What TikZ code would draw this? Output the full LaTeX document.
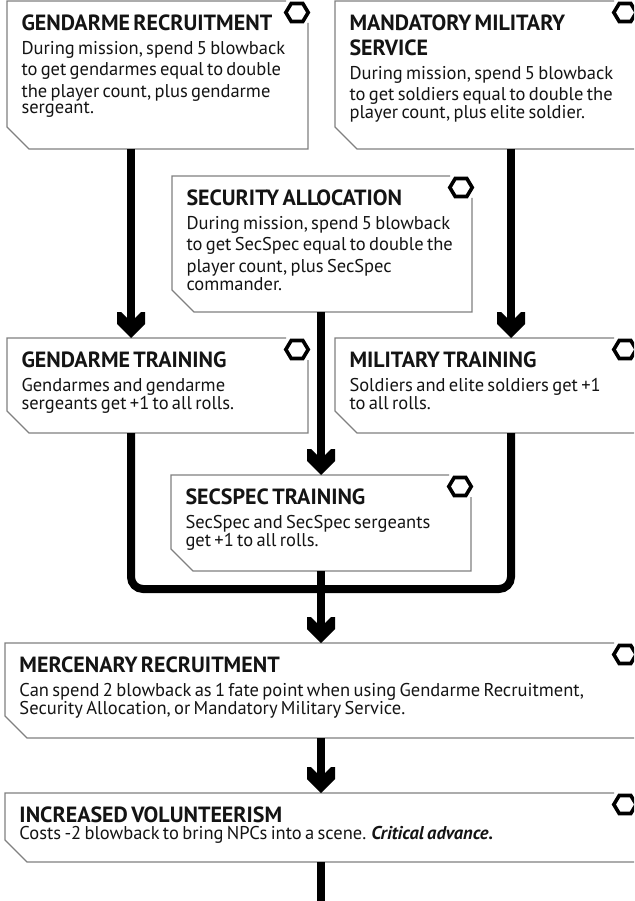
\documentclass[tikz,border=0pt]{standalone}
\usepackage{fontspec}
\setmainfont{PT Sans}
\newcommand\ttl{\fontsize{22}{25}\selectfont\bfseries}
\newcommand\bdy{\fontsize{18.5}{21.6}\selectfont\mdseries\upshape}
\pgfdeclarearrow{
  name = Chev,
  setup code = {
    \pgfarrowssettipend{0pt}
    \pgfarrowssetbackend{-26pt}
    \pgfarrowssetlineend{-18pt}
    \pgfarrowshullpoint{0pt}{0pt}
    \pgfarrowshullpoint{-26pt}{14pt}
    \pgfarrowshullpoint{-26pt}{-14pt}
  },
  drawing code = {
    \pgfpathmoveto{\pgfqpoint{0pt}{0pt}}
    \pgfpathlineto{\pgfqpoint{-14pt}{14pt}}
    \pgfpathlineto{\pgfqpoint{-26pt}{14pt}}
    \pgfpathlineto{\pgfqpoint{-26pt}{10pt}}
    \pgfpathlineto{\pgfqpoint{-20pt}{4pt}}
    \pgfpathlineto{\pgfqpoint{-20pt}{-4pt}}
    \pgfpathlineto{\pgfqpoint{-26pt}{-10pt}}
    \pgfpathlineto{\pgfqpoint{-26pt}{-14pt}}
    \pgfpathlineto{\pgfqpoint{-14pt}{-14pt}}
    \pgfpathclose
    \pgfusepathqfill
  }
}
\tikzset{
  boxn/.style={anchor=north west, inner sep=0pt, outer sep=0pt},
  outl/.style={draw=black!50, line width=1.1pt, line join=miter},
  txt/.style={anchor=north west, inner sep=0pt, outer sep=0pt, text width=620pt, align=left, text=black!92},
  conn/.style={draw=black, line width=8pt},
  arr/.style={conn, -{Chev}},
  hexa/.pic={\draw[line width=3.6pt, line join=miter, black] (-11.2,0) -- (-5.8,-9) -- (5.8,-9) -- (11.2,0) -- (5.8,9) -- (-5.8,9) -- cycle;},
}
% name, L, T, R, B
\newcommand\mkbox[5]{%
  \node[boxn, minimum width={#4-#2}, minimum height={#5-#3}] (#1) at (#2,#3) {};
  \draw[outl] ([shift={(0,22)}]#1.north east) -- (#1.south east) -- ([shift={(22,0)}]#1.south west) -- ([shift={(0,-22)}]#1.south west) -- (#1.north west) -- ([shift={(-22,0)}]#1.north east);
  \pic at ([shift={(-11,11.5)}]#1.north east) {hexa};
}
\newcommand\mktext[2]{%
  \node[txt] (#1t) at ([shift={(14.5,13.5)}]#1.north west) {#2};
}
\begin{document}
\begin{tikzpicture}[x=1pt,y=-1pt]
\useasboundingbox (0,0) rectangle (634,901);
\fill[white] (0,0) rectangle (634,901);
\clip (0,0) rectangle (634,901);
\coordinate (colL) at (131,0);
\coordinate (colM) at (321,0);
\coordinate (colR) at (511,0);
\coordinate (bar) at (321,589);
\coordinate (endH) at (321,910);

\mkbox{A}{7}{1}{308}{149}
\mkbox{B}{335}{1}{636}{149}
\mkbox{C}{172}{176}{472}{312}
\mkbox{D}{7}{338}{308}{433}
\mkbox{E}{335}{338}{636}{433}
\mkbox{F}{171}{475}{471}{571}
\mkbox{G}{5}{643}{636}{738}
\mkbox{H}{5}{793}{636}{862}

\mktext{A}{\ttl GENDARME RECRUITMENT\par\vskip2.5pt\bdy During mission, spend 5 blowback\\to get gendarmes equal to double\\the player count, plus gendarme\\sergeant.}
\mktext{B}{\ttl MANDATORY MILITARY\\SERVICE\par\vskip2.5pt\bdy During mission, spend 5 blowback\\to get soldiers equal to double the\\player count, plus elite soldier.}
\mktext{C}{\ttl SECURITY ALLOCATION\par\vskip2.5pt\bdy During mission, spend 5 blowback\\to get SecSpec equal to double the\\player count, plus SecSpec\\commander.}
\mktext{D}{\ttl GENDARME TRAINING\par\vskip2.5pt\bdy Gendarmes and gendarme\\sergeants get +1 to all rolls.}
\mktext{E}{\ttl MILITARY TRAINING\par\vskip2.5pt\bdy Soldiers and elite soldiers get +1\\to all rolls.}
\mktext{F}{\ttl SECSPEC TRAINING\par\vskip2.5pt\bdy SecSpec and SecSpec sergeants\\get +1 to all rolls.}
\mktext{G}{\ttl MERCENARY RECRUITMENT\par\vskip2.5pt\bdy Can spend 2 blowback as 1 fate point when using Gendarme Recruitment,\\Security Allocation, or Mandatory Military Service.}
\mktext{H}{\ttl INCREASED VOLUNTEERISM\par\vskip2.5pt\bdy Costs -2 blowback to bring NPCs into a scene. \textbf{\textit{Critical advance.}}}

\draw[arr] (A.south -| colL) -- (D.north -| colL);
\draw[arr] (B.south -| colR) -- (E.north -| colR);
\draw[arr] (C.south -| colM) -- (F.north -| colM);
\draw[conn, rounded corners=12pt] (D.south -| colL) |- (bar);
\draw[conn, rounded corners=12pt] (E.south -| colR) |- (bar);
\draw[arr] (F.south -| colM) -- (G.north -| colM);
\draw[arr] (G.south -| colM) -- (H.north -| colM);
\draw[conn] (H.south -| colM) -- (endH);
\end{tikzpicture}
\end{document}
